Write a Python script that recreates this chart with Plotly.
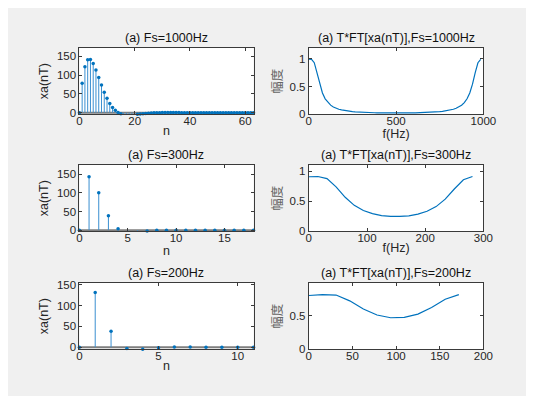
import plotly.graph_objects as go

# ---------------- data ----------------
n1000 = list(range(64))
x1000 = [0, 78.4, 122.4, 141.0, 141.8, 131.1, 113.8, 93.8, 73.5, 54.7, 38.3, 24.8, 14.1, 6.2, 0.6,
         -3.0, -5.1, -6.1, -6.2, -5.8, -5.0, -4.2, -3.3, -2.5, -1.8, -1.2, -0.7, -0.3, -0.1, 0.1,
         0.2, 0.3, 0.3, 0.3, 0.2, 0.2, 0.2, 0.1, 0.1, 0.05, 0.03, 0.01, 0, -0.01, -0.01, -0.02,
         -0.02, -0.02, -0.01, -0.01, -0.01, 0, 0, 0, 0, 0, 0, 0, 0, 0, 0, 0, 0, 0]
n300 = list(range(19))
x300 = [0, 142.9, 100.6, 38.4, 4.1, -5.8, -5.0, -2.2, -0.4, 0.2, 0.2, 0.1, 0.03, -0.01, 0, 0, 0, 0, 0]
n200 = list(range(12))
x200 = [0, 131.1, 38.4, -3.0, -5.0, -1.2, 0.2, 0.2, 0.03, -0.01, -0.01, 0]

f1000 = [15.625 * k for k in range(64)]
half1000 = [0.992, 0.988, 0.927, 0.750, 0.542, 0.384, 0.279, 0.211, 0.165, 0.133, 0.110, 0.092,
            0.079, 0.069, 0.061, 0.054, 0.049, 0.045, 0.041, 0.038, 0.035, 0.033, 0.031, 0.030,
            0.029, 0.028, 0.027, 0.026, 0.025, 0.025, 0.025, 0.025, 0.024]
m1000 = half1000 + half1000[1:32][::-1]
f300 = [15.625 * k for k in range(19)]
m300 = [0.910, 0.914, 0.879, 0.741, 0.567, 0.433, 0.347, 0.294, 0.263, 0.249, 0.248, 0.259,
        0.286, 0.334, 0.412, 0.536, 0.705, 0.859, 0.913]
f200 = [15.625 * k for k in range(12)]
m200 = [0.803, 0.815, 0.810, 0.723, 0.600, 0.512, 0.471, 0.476, 0.525, 0.623, 0.747, 0.817]

left_titles = ["(a) Fs=1000Hz", "(a) Fs=300Hz", "(a) Fs=200Hz"]
right_titles = ["(a) T*FT[xa(nT)],Fs=1000Hz", "(a) T*FT[xa(nT)],Fs=300Hz", "(a) T*FT[xa(nT)],Fs=200Hz"]
left_xticks = [[0, 20, 40, 60], [0, 5, 10, 15], [0, 5, 10]]
right_xticks = [[0, 500, 1000], [0, 100, 200, 300], [0, 50, 100, 150, 200]]

# ---------------- layout geometry ----------------
W, H = 534, 396
BLUE = "#0072BD"
TXT = "#262626"
FONT = "Liberation Sans, Arial, sans-serif"
lx = (70.5 / W, 250 / W)
rx = (307 / W, 487 / W)
rows_px = [(37, 105), (157, 225), (278, 346)]
rows = [(1 - b / H, 1 - t / H) for (t, b) in rows_px]

left_data = [(n1000, x1000, [-4.4, 172], 63), (n300, x300, [-3, 174.5], 18), (n200, x200, [-5, 154], 11)]
right_data = [(f1000, m1000, [0, 1.19], [0, 0.5, 1], 1000, "f(Hz)"),
              (f300, m300, [0, 1.105], [0, 0.5, 1], 300, "f(Hz)"),
              (f200, m200, [0, 0.99], [0, 0.5], 200, "")]

fig = go.Figure()
annotations = []

def axstyle(**kw):
    d = dict(showline=True, linecolor="#3a3a3a", linewidth=1, mirror="ticks", ticks="inside",
             ticklen=3, tickcolor="#3a3a3a", showgrid=False, zeroline=False,
             tickfont=dict(family=FONT, size=11.5, color=TXT))
    d.update(kw)
    return d

for i in range(3):
    # ----- left: stem plot -----
    ax_id = 2 * i + 1
    xs, ys, yr, xmax = left_data[i]
    xa = "x" if ax_id == 1 else f"x{ax_id}"
    ya = "y" if ax_id == 1 else f"y{ax_id}"
    sx, sy = [], []
    for a, b in zip(xs, ys):
        sx += [a, a, None]
        sy += [0, b, None]
    fig.add_trace(go.Scatter(x=[0, xmax], y=[0, 0], mode="lines", line=dict(color="#7f7f7f", width=2),
                             xaxis=xa, yaxis=ya, showlegend=False, hoverinfo="skip"))
    fig.add_trace(go.Scatter(x=sx, y=sy, mode="lines", line=dict(color="#3a8fd0", width=1),
                             xaxis=xa, yaxis=ya, showlegend=False))
    fig.add_trace(go.Scatter(x=xs, y=ys, mode="markers", marker=dict(color=BLUE, size=3.5),
                             xaxis=xa, yaxis=ya, showlegend=False, cliponaxis=False))
    fig.layout[f"xaxis{'' if ax_id == 1 else ax_id}"] = axstyle(
        domain=list(lx), anchor=ya, range=[0, xmax], tickvals=left_xticks[i], ticklabelstandoff=-4,
        title=dict(text="n", font=dict(family=FONT, size=12.5, color=TXT), standoff=0))
    fig.layout[f"yaxis{'' if ax_id == 1 else ax_id}"] = axstyle(
        domain=list(rows[i]), anchor=xa, range=yr, tickvals=[0, 50, 100, 150],
        title=dict(text="xa(nT)", font=dict(family=FONT, size=12.5, color=TXT), standoff=5))
    annotations.append(dict(text=left_titles[i], x=(lx[0] + lx[1]) / 2, y=rows[i][1], xref="paper",
                            yref="paper", xanchor="center", yanchor="bottom", showarrow=False, yshift=1,
                            font=dict(family=FONT, size=12.5, color="#111111")))

    # ----- right: magnitude line -----
    ax_id = 2 * i + 2
    fs, ms, yr, yt, xmax, xt = right_data[i]
    xa = f"x{ax_id}"
    ya = f"y{ax_id}"
    fig.add_trace(go.Scatter(x=fs, y=ms, mode="lines", line=dict(color=BLUE, width=1.2),
                             xaxis=xa, yaxis=ya, showlegend=False))
    fig.layout[f"xaxis{ax_id}"] = axstyle(
        domain=list(rx), anchor=ya, range=[0, xmax], tickvals=right_xticks[i], ticklabelstandoff=-4,
        title=dict(text=xt, font=dict(family=FONT, size=12.5, color=TXT), standoff=0))
    fig.layout[f"yaxis{ax_id}"] = axstyle(
        domain=list(rows[i]), anchor=xa, range=yr, tickvals=yt,
        title=dict(text="幅度", font=dict(family="Noto Sans CJK SC", size=12.5, color="#666666"), standoff=4))
    annotations.append(dict(text=right_titles[i], x=(rx[0] + rx[1]) / 2, y=rows[i][1], xref="paper",
                            yref="paper", xanchor="center", yanchor="bottom", showarrow=False, yshift=1,
                            font=dict(family=FONT, size=12.5, color="#111111")))

fig.update_layout(width=W, height=H, margin=dict(l=0, r=0, t=0, b=0),
                  paper_bgcolor="#f0f0f0", plot_bgcolor="#ffffff",
                  annotations=annotations, font=dict(family=FONT, size=11.5, color=TXT))
fig.write_html("out.html")
